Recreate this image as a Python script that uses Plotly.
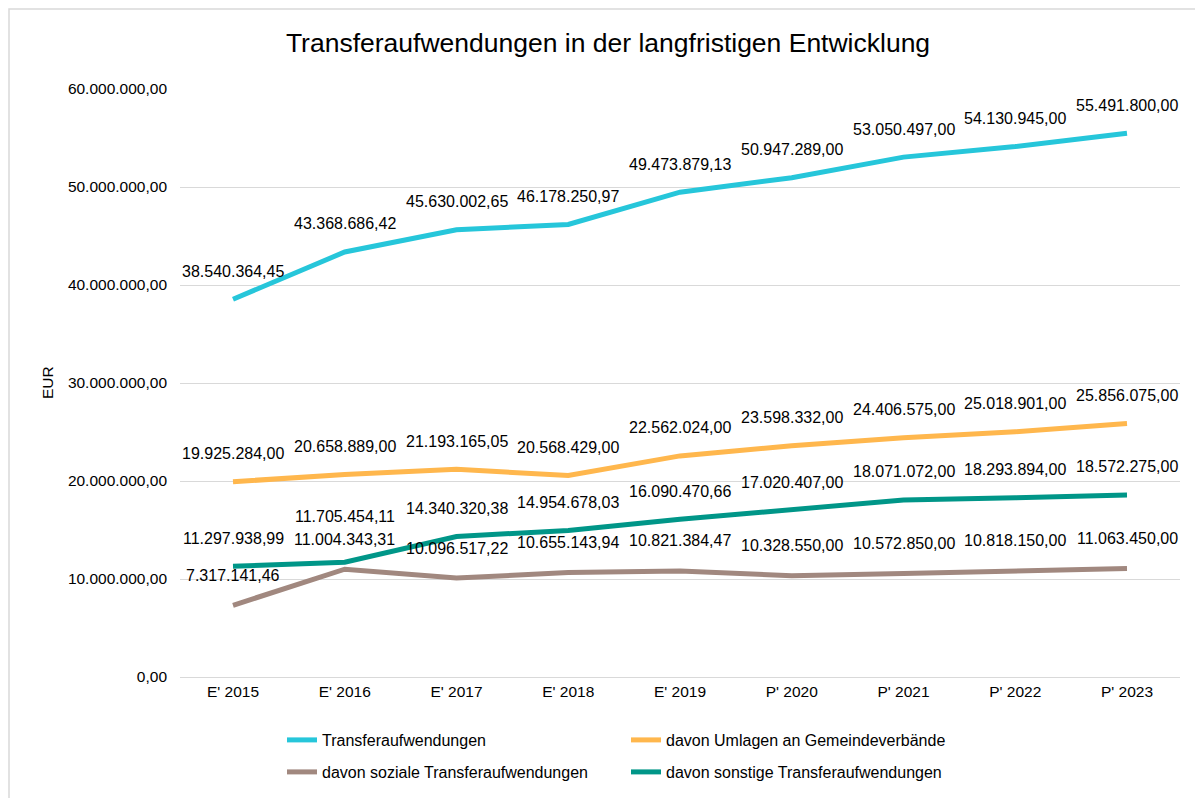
import plotly.graph_objects as go

categories = ["E' 2015", "E' 2016", "E' 2017", "E' 2018", "E' 2019", "P' 2020", "P' 2021", "P' 2022", "P' 2023"]
transfer = [38540364.45, 43368686.42, 45630002.65, 46178250.97, 49473879.13, 50947289.00, 53050497.00, 54130945.00, 55491800.00]
umlagen = [19925284.00, 20658889.00, 21193165.05, 20568429.00, 22562024.00, 23598332.00, 24406575.00, 25018901.00, 25856075.00]
soziale = [7317141.46, 11004343.31, 10096517.22, 10655143.94, 10821384.47, 10328550.00, 10572850.00, 10818150.00, 11063450.00]
sonstige = [11297938.99, 11705454.11, 14340320.38, 14954678.03, 16090470.66, 17020407.00, 18071072.00, 18293894.00, 18572275.00]

FONT = "Liberation Sans, Arial, sans-serif"

def de(v):
    s = f"{v:,.2f}"
    return s.replace(",", "X").replace(".", ",").replace("X", ".")

series = [
    ("Transferaufwendungen", transfer, "#26C6DA", "legend"),
    ("davon Umlagen an Gemeindeverbände", umlagen, "#FFB74D", "legend"),
    ("davon soziale Transferaufwendungen", soziale, "#A1887F", "legend2"),
    ("davon sonstige Transferaufwendungen", sonstige, "#009688", "legend2"),
]

fig = go.Figure()
for name, vals, col, lg in series:
    fig.add_trace(go.Scatter(x=categories, y=vals, mode="lines", name=name,
                             line=dict(color=col, width=5), legend=lg))

annotations = []
for name, vals, col, lg in series:
    for i, (c, v) in enumerate(zip(categories, vals)):
        shift = 28
        if name == "davon sonstige Transferaufwendungen" and i == 1:
            shift = 46
        if name == "davon soziale Transferaufwendungen":
            shift = 30
        annotations.append(dict(x=c, y=v, xref="x", yref="y", text=de(v), showarrow=False,
                                yshift=shift, font=dict(family=FONT, size=16, color="#000000")))

annotations.append(dict(text="EUR", xref="paper", yref="paper", x=-0.133, y=0.5, textangle=-90,
                        xanchor="center", yanchor="middle",
                        showarrow=False, font=dict(family=FONT, size=15.5, color="#000000")))

L, T, PW, PH = 172, 81, 1000, 588
fig.update_layout(
    width=1203, height=798,
    margin=dict(l=L, r=1203 - L - PW, t=T, b=798 - T - PH),
    paper_bgcolor="white", plot_bgcolor="white",
    separators=",.",
    title=dict(text="Transferaufwendungen in der langfristigen Entwicklung", x=600 / 1203, xref="container",
               y=1 - 35 / 798, yref="container", xanchor="center", yanchor="middle",
               font=dict(family=FONT, size=26.5, color="#000000")),
    xaxis=dict(showgrid=False, showline=True, linecolor="#D9D9D9", linewidth=1, ticks="",
               tickfont=dict(family=FONT, size=15.5, color="#000000"), fixedrange=True),
    yaxis=dict(range=[0, 60000000], dtick=10000000, tickformat=",.2f", showgrid=True,
               gridcolor="#D9D9D9", gridwidth=1, zeroline=False, showline=False, ticks="",
               ticklabelstandoff=12,
               tickfont=dict(family=FONT, size=15.5, color="#000000")),
    showlegend=True,
    legend=dict(orientation="h", x=0.102, y=(677 - 740) / 588, xanchor="left", yanchor="middle",
                entrywidth=299, font=dict(family=FONT, size=16, color="#000000"), bgcolor="rgba(0,0,0,0)"),
    legend2=dict(orientation="h", x=0.102, y=(677 - 772) / 588, xanchor="left", yanchor="middle",
                 entrywidth=299, font=dict(family=FONT, size=16, color="#000000"), bgcolor="rgba(0,0,0,0)"),
    annotations=annotations,
    shapes=[dict(type="rect", xref="paper", yref="paper", x0=(1 - L) / PW, x1=(1250 - L) / PW,
                 y0=-0.5, y1=(T + PH - 1) / PH, line=dict(color="#D9D9D9", width=1.5),
                 fillcolor="rgba(0,0,0,0)", layer="below")],
)

fig.write_html("out.html")
